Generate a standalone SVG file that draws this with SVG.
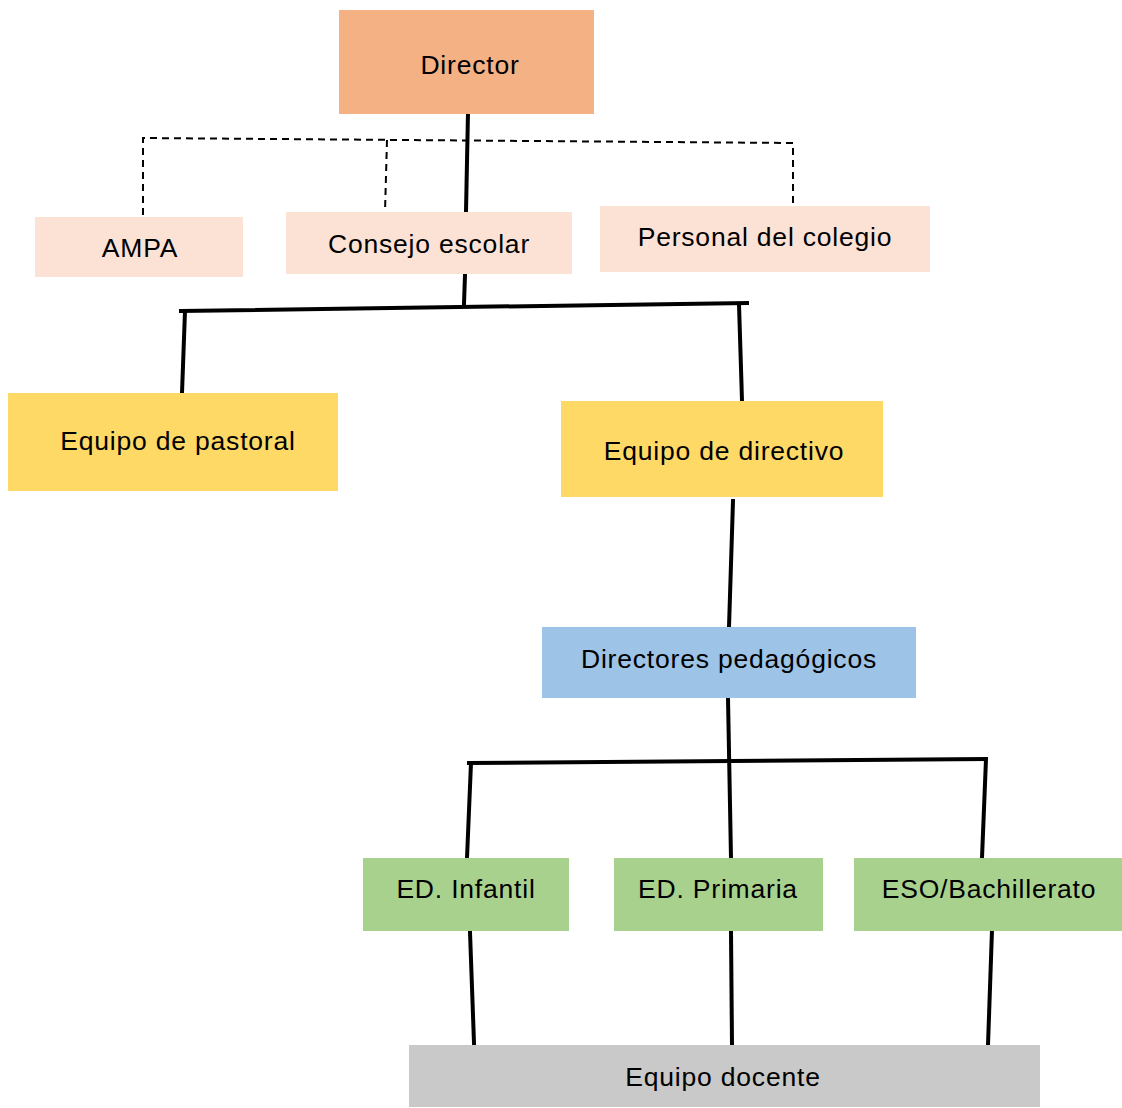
<svg xmlns="http://www.w3.org/2000/svg" width="1122" height="1108" viewBox="0 0 1122 1108">
<style>
text{font-family:"Liberation Sans",Arial,sans-serif;font-size:26.5px;letter-spacing:0.8px;fill:#000;text-anchor:middle}
.s{stroke:#000;stroke-width:4;fill:none;stroke-linecap:square}
.d{stroke:#000;stroke-width:2;fill:none;stroke-dasharray:7,5}
</style>
<rect width="1122" height="1108" fill="#fff"/>
<g id="connectors">
<polyline class="d" points="143,215 143,138 793,143 793,205"/>
<line class="d" x1="387" y1="140" x2="385" y2="212"/>
<line class="s" x1="468" y1="112" x2="466" y2="212"/>
<line class="s" x1="465" y1="275" x2="464" y2="304"/>
<line class="s" x1="181" y1="311" x2="747" y2="303"/>
<line class="s" x1="185" y1="311" x2="182" y2="393"/>
<line class="s" x1="739" y1="304" x2="742" y2="401"/>
<line class="s" x1="733" y1="501" x2="729" y2="627"/>
<line class="s" x1="728" y1="698" x2="731" y2="858"/>
<line class="s" x1="469" y1="763" x2="985" y2="759"/>
<line class="s" x1="471" y1="763" x2="467" y2="858"/>
<line class="s" x1="986" y1="759" x2="982" y2="858"/>
<line class="s" x1="470" y1="932" x2="474" y2="1043"/>
<line class="s" x1="731" y1="932" x2="732" y2="1045"/>
<line class="s" x1="992" y1="930" x2="988" y2="1045"/>
</g>
<g id="director"><rect x="339" y="10" width="255" height="104" fill="#F4B183"/><text x="470" y="74">Director</text></g>
<g id="ampa"><rect x="35" y="217" width="208" height="60" fill="#FBE2D5"/><text x="140" y="257">AMPA</text></g>
<g id="consejo"><rect x="286" y="212" width="286" height="62" fill="#FBE2D5"/><text x="429" y="253">Consejo escolar</text></g>
<g id="personal"><rect x="600" y="206" width="330" height="66" fill="#FBE2D5"/><text x="765" y="246">Personal del colegio</text></g>
<g id="pastoral"><rect x="8" y="393" width="330" height="98" fill="#FFD966"/><text x="178" y="450">Equipo de pastoral</text></g>
<g id="directivo"><rect x="561" y="401" width="322" height="96" fill="#FFD966"/><text x="724" y="460">Equipo de directivo</text></g>
<g id="pedagogicos"><rect x="542" y="627" width="374" height="71" fill="#9DC3E6"/><text x="729" y="668">Directores pedagógicos</text></g>
<g id="infantil"><rect x="363" y="858" width="206" height="73" fill="#A9D18E"/><text x="466" y="898">ED. Infantil</text></g>
<g id="primaria"><rect x="614" y="858" width="209" height="73" fill="#A9D18E"/><text x="718" y="898">ED. Primaria</text></g>
<g id="eso"><rect x="854" y="858" width="268" height="73" fill="#A9D18E"/><text x="989" y="898">ESO/Bachillerato</text></g>
<g id="docente"><rect x="409" y="1045" width="631" height="62" fill="#C9C9C9"/><text x="723" y="1086">Equipo docente</text></g>
</svg>
